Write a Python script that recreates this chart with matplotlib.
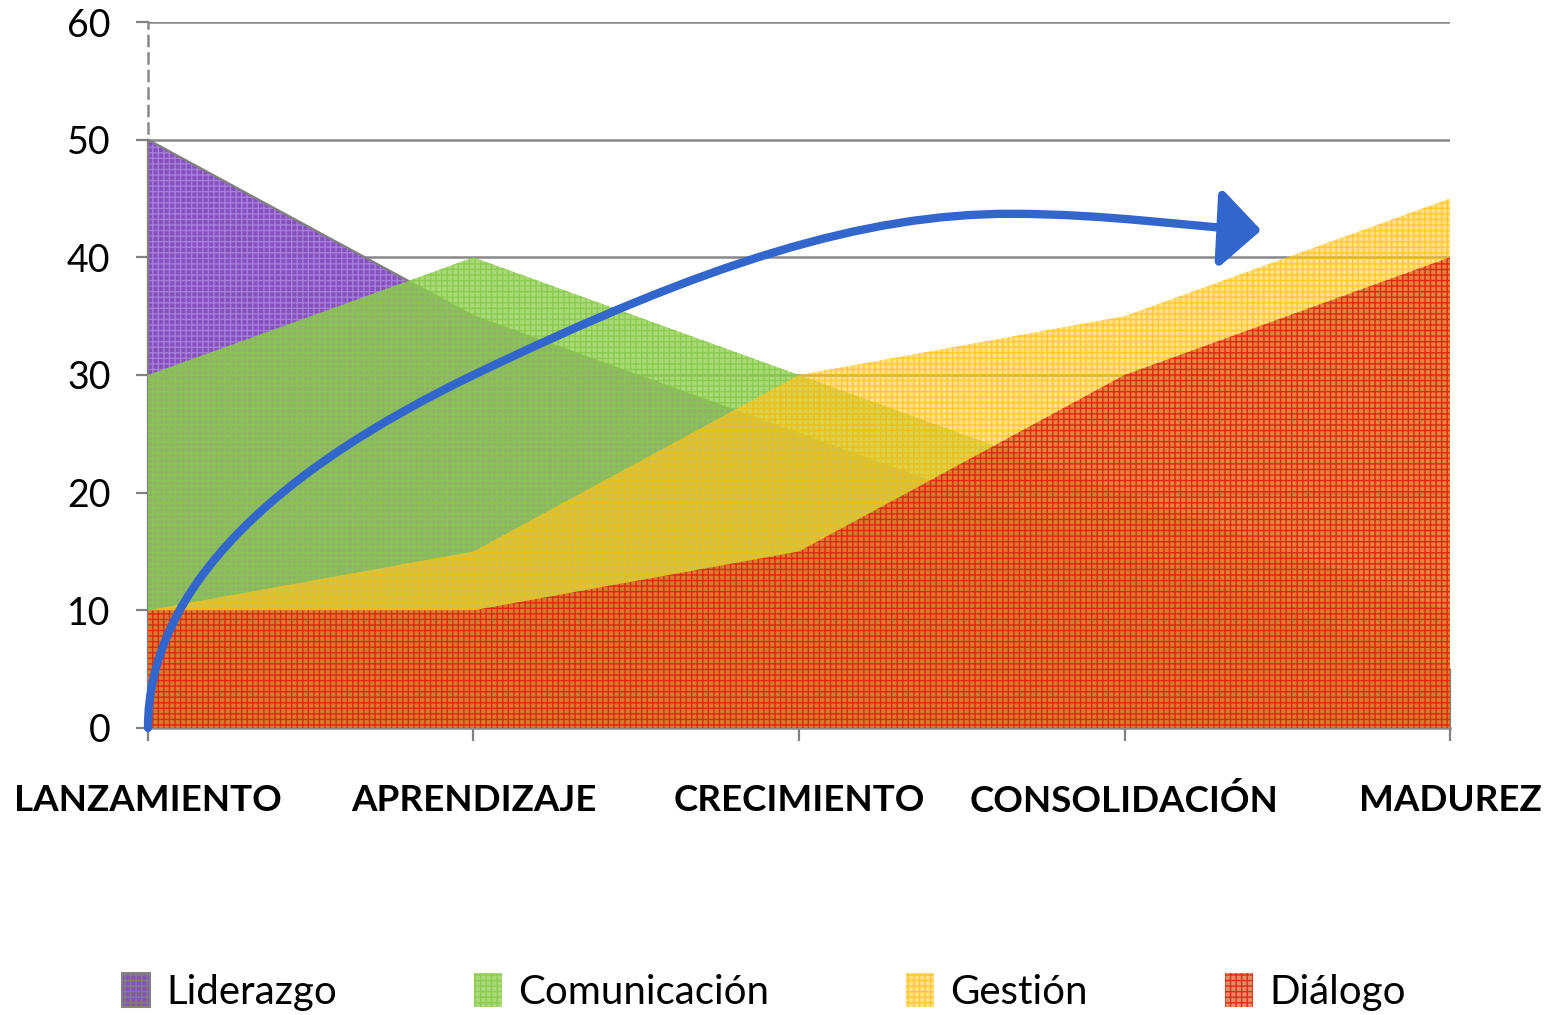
import matplotlib
matplotlib.use("Agg")
import matplotlib.pyplot as plt
from matplotlib.patches import Patch, FancyArrowPatch
from matplotlib.path import Path

etapas = ["LANZAMIENTO", "APRENDIZAJE", "CRECIMIENTO", "CONSOLIDACIÓN", "MADUREZ"]
liderazgo = [50, 35, 25, 15, 5]
comunicacion = [30, 40, 30, 20, 10]
gestion = [10, 15, 30, 35, 45]
dialogo = [10, 10, 15, 30, 40]
yticks = [0, 10, 20, 30, 40, 50, 60]

series = [
    ("Liderazgo", liderazgo, "#8048BC", "#A880DC", 0.95),
    ("Comunicación", comunicacion, "#92D050", "#84C848", 0.78),
    ("Gestión", gestion, "#FFCC33", "#FFB800", 0.60),
    ("Diálogo", dialogo, "#DC6026", "#E00A0A", 0.72),
]

plt.rcParams["font.family"] = ["Lato", "DejaVu Sans"]
plt.rcParams["hatch.linewidth"] = 1.0

fig = plt.figure(figsize=(15.48, 10.15), dpi=100)
ax = fig.add_axes([0.0956, 0.2828, 0.8411, 0.6955])

x = list(range(len(etapas)))
handles = []
for k, (name, vals, face, hatch_col, alpha) in enumerate(series):
    ax.fill_between(x, 0, vals, facecolor=face, edgecolor=hatch_col, alpha=alpha,
                    hatch="+++", linewidth=0, zorder=1 + k)
    handles.append(Patch(facecolor=face, edgecolor=hatch_col, alpha=alpha, hatch="+++",
                         linewidth=0))
    if k == 0:
        ax.plot([0] + x + [x[-1]], [0] + vals + [0], color="#808080", lw=1.6,
                zorder=1.5, clip_on=False)
handles[0] = Patch(facecolor=series[0][2], edgecolor="#808080", hatch="+++",
                   linewidth=1.5, alpha=0.95)

# flecha azul
verts = [(0, 0), (0, 12), (0.4, 22), (1, 30),
         (1.72, 39.6), (2.2, 43.7), (2.65, 43.7),
         (2.95, 43.7), (3.2, 42.6), (3.42, 42.3)]
codes = [Path.MOVETO] + [Path.CURVE4] * 9
arrow = FancyArrowPatch(path=Path(verts, codes),
                        arrowstyle="-|>,head_length=2.5,head_width=2.4",
                        mutation_scale=10, color="#3366CC", lw=6,
                        zorder=10, clip_on=False)
ax.add_patch(arrow)

ax.set_xlim(0, 4)
ax.set_ylim(0, 60)
ax.set_yticks(yticks)
ax.set_xticks(x)
ax.set_xticklabels(etapas, fontsize=26.5, fontweight="bold")
ax.tick_params(axis="y", labelsize=27, length=9, width=1.6, color="#808080", pad=18)
ax.tick_params(axis="x", length=9, width=1.6, color="#808080", pad=31)
ax.yaxis.grid(True, color="#888888", lw=1.8, zorder=0)
ax.set_axisbelow(True)

for side in ["top", "right"]:
    ax.spines[side].set_visible(False)
ax.spines["left"].set_linestyle((0, (4, 3)))
ax.spines["left"].set_color("#888888")
ax.spines["left"].set_linewidth(1.8)
ax.spines["bottom"].set_color("#888888")
ax.spines["bottom"].set_linewidth(1.8)
ax.spines["left"].set_zorder(0.5)

fig.legend(handles, [s[0] for s in series], loc="center", ncol=4,
           bbox_to_anchor=(0.4935, 0.0227), frameon=False, fontsize=29,
           columnspacing=3.4, handlelength=0.7, handleheight=0.9, handletextpad=0.4)

fig.savefig("out.png", dpi=100)
